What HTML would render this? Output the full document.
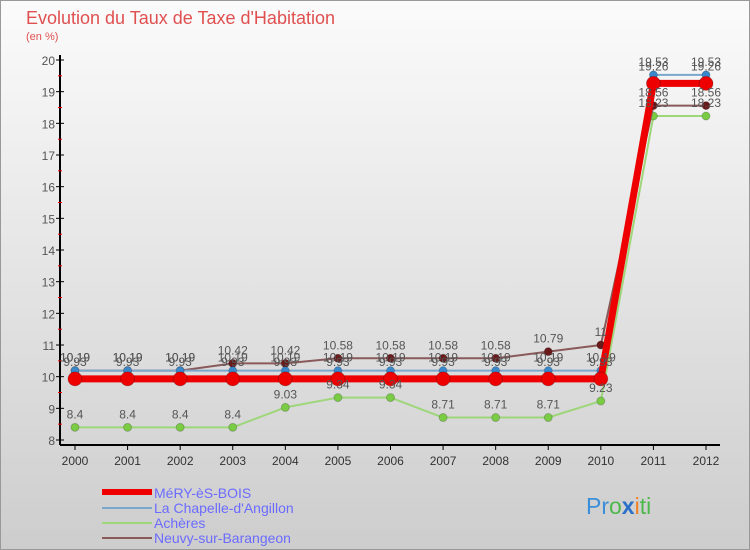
<!DOCTYPE html>
<html><head><meta charset="utf-8"><style>
body{margin:0}
#c{width:750px;height:550px;position:relative;overflow:hidden;font-family:"Liberation Sans",sans-serif}
</style></head><body>
<div id="c">
<svg id="s" width="750" height="550" xmlns="http://www.w3.org/2000/svg">
<defs><linearGradient id="bg" x1="0" y1="0" x2="0" y2="1"><stop offset="0" stop-color="#fbfbfb"/><stop offset="1" stop-color="#cdcdcd"/></linearGradient></defs>
<rect x="0.5" y="0.5" width="749" height="549" fill="url(#bg)" stroke="#999"/>
<text x="26" y="24" font-size="18" fill="#e05050">Evolution du Taux de Taxe d'Habitation</text>
<text x="26" y="40" font-size="11" fill="#e05050">(en %)</text>
<g id="axes"></g><g id="series"></g><g id="labels"></g>
<g id="legend" font-size="14" fill="#6b6bff">
<rect x="102" y="489" width="50" height="6" fill="#e00"/>
<text x="154" y="498" fill="#6b6bff">MéRY-èS-BOIS</text>
<rect x="102" y="507" width="50" height="2" fill="#7aa7cc"/>
<text x="154" y="513" fill="#6b6bff">La Chapelle-d'Angillon</text>
<rect x="102" y="522" width="50" height="2" fill="#9ed67a"/>
<text x="154" y="528" fill="#6b6bff">Achères</text>
<rect x="102" y="537" width="50" height="2" fill="#8a5a5a"/>
<text x="154" y="543" fill="#6b6bff">Neuvy-sur-Barangeon</text>
</g>
<text x="586" y="514" font-size="23"><tspan fill="#3a8fd8">Pr</tspan><tspan fill="#4cb84c">o</tspan><tspan fill="#2a6fc8" font-weight="bold">x</tspan><tspan fill="#f08020">i</tspan><tspan fill="#4cb84c">ti</tspan></text>
</svg></div>
<script>
const years=[2000,2001,2002,2003,2004,2005,2006,2007,2008,2009,2010,2011,2012];
const yTicks=[8,9,10,11,12,13,14,15,16,17,18,19,20];
const mery=[9.93,9.93,9.93,9.93,9.93,9.93,9.93,9.93,9.93,9.93,9.93,19.26,19.26];
const chapelle=[10.19,10.19,10.19,10.19,10.19,10.19,10.19,10.19,10.19,10.19,10.19,19.53,19.53];
const acheres=[8.4,8.4,8.4,8.4,9.03,9.34,9.34,8.71,8.71,8.71,9.23,18.23,18.23];
const neuvy=[10.19,10.19,10.19,10.42,10.42,10.58,10.58,10.58,10.58,10.79,11,18.56,18.56];
const NS="http://www.w3.org/2000/svg";
const X=i=>75+i*(706-75)/12;
const Y=v=>440-(v-8)*(380/12);
function mk(tag,attrs,parent,txt){const e=document.createElementNS(NS,tag);for(const k in attrs)e.setAttribute(k,attrs[k]);if(txt!==undefined)e.textContent=txt;document.getElementById(parent).appendChild(e);return e;}
let e=mk('line',{x1:60,y1:55,x2:60,y2:445,stroke:'#000','stroke-width':2},'axes');


e=mk('line',{x1:60,y1:445,x2:720,y2:445,stroke:'#000','stroke-width':2},'axes');


yTicks.forEach(t=>{
  mk('line',{x1:56,y1:Y(t),x2:64,y2:Y(t),stroke:'#000'},'axes');
  if(t<20) mk('line',{x1:58,y1:Y(t+0.5),x2:62,y2:Y(t+0.5),stroke:'#e00'},'axes');
  e=mk('text',{x:55,y:Y(t)+5,'font-size':12,'text-anchor':'end',fill:'#555'},'axes',t);
  
  
});
years.forEach((yr,i)=>{
  mk('line',{x1:X(i),y1:445,x2:X(i),y2:450,stroke:'#000'},'axes');
  e=mk('text',{x:X(i),y:465,'font-size':12,'text-anchor':'middle',fill:'#333'},'axes',yr);
  
  
});
function series(data,color,mcolor,w,r,name,dy){
  const pts=data.map((v,i)=>X(i)+','+Y(v)).join(' ');
  let p=mk('polyline',{points:pts,fill:'none',stroke:color,'stroke-width':w,'stroke-linejoin':'round'},'series');
  
  
  data.forEach((v,i)=>{
    let c=mk('circle',{cx:X(i),cy:Y(v),r:r,fill:mcolor,stroke:'#0003'},'series');
    
    
    let t=mk('text',{x:X(i),y:Y(v)+dy,'font-size':12,'text-anchor':'middle',fill:'#555'},'labels',v);
    
    
  });
}
series(acheres,'#9ed67a','#7acc44',2,4,'acheres',-9);
series(neuvy,'#8a5a5a','#6a1a1a',2,4,'neuvy',-9);
series(chapelle,'#7aa7cc','#3a88cc',2,4,'chapelle',-9);
series(mery,'#ee0000','#ee0000',7,7,'mery',-13);
</script>
</body></html>
